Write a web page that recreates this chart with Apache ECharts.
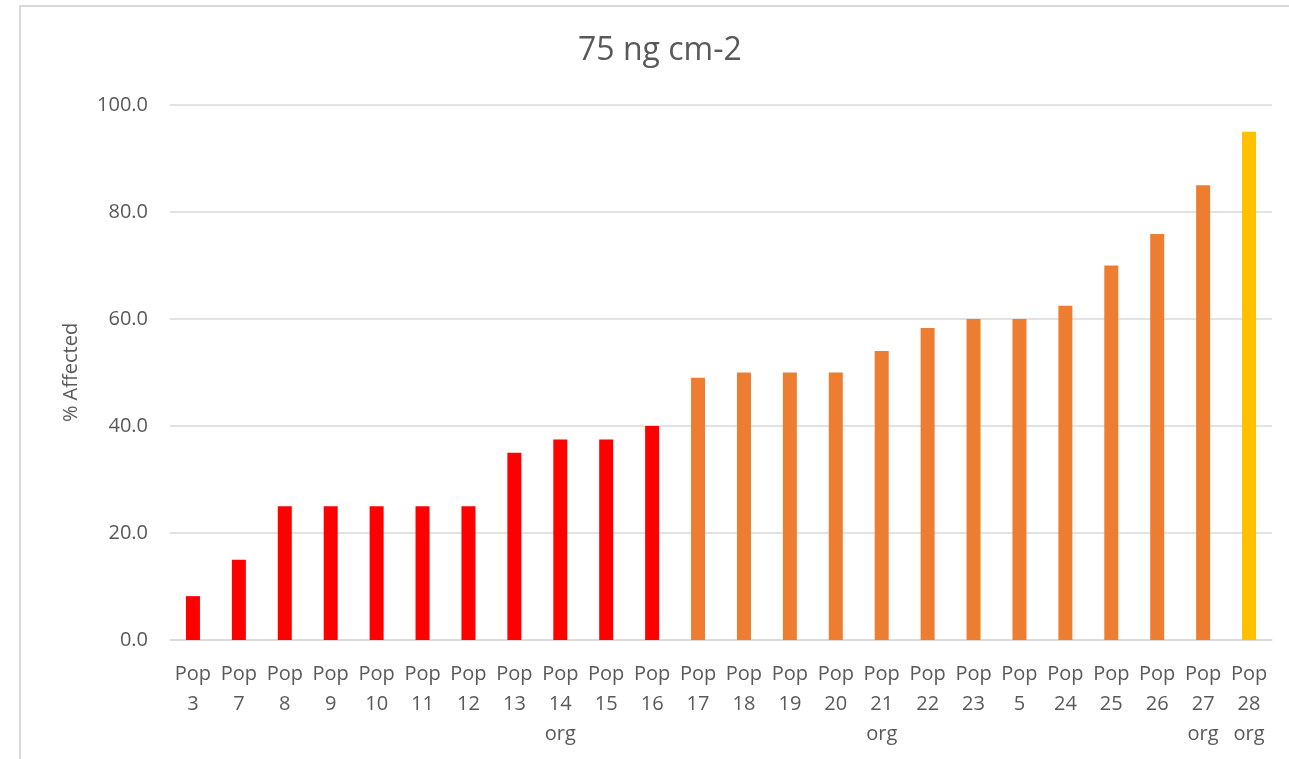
<!DOCTYPE html>
<html>
<head>
<meta charset="utf-8">
<script src="https://cdn.jsdelivr.net/npm/echarts@6/dist/echarts.min.js"></script>
<style>
  html, body { margin: 0; padding: 0; background: #ffffff; }
  #chart { width: 1289px; height: 759px; }
</style>
</head>
<body>
<div id="chart"></div>
<script>
const titleText = '75 ng cm-2';
const yAxisName = '% Affected';
const categories = [
  'Pop\n3', 'Pop\n7', 'Pop\n8', 'Pop\n9', 'Pop\n10', 'Pop\n11', 'Pop\n12', 'Pop\n13',
  'Pop\n14\norg', 'Pop\n15', 'Pop\n16', 'Pop\n17', 'Pop\n18', 'Pop\n19', 'Pop\n20',
  'Pop\n21\norg', 'Pop\n22', 'Pop\n23', 'Pop\n5', 'Pop\n24', 'Pop\n25', 'Pop\n26',
  'Pop\n27\norg', 'Pop\n28\norg'
];
const values = [
  8.2, 15.0, 25.0, 25.0, 25.0, 25.0, 25.0, 35.0,
  37.5, 37.5, 40.0, 49.0, 50.0, 50.0, 50.0,
  54.0, 58.3, 60.0, 60.0, 62.5, 70.0, 75.9,
  85.0, 95.0
];
const groups = [
  'low', 'low', 'low', 'low', 'low', 'low', 'low', 'low',
  'low', 'low', 'low', 'mid', 'mid', 'mid', 'mid',
  'mid', 'mid', 'mid', 'mid', 'mid', 'mid', 'mid',
  'mid', 'high'
];
const yTicks = { min: 0, max: 100, interval: 20 };

const groupColors = { low: '#FF0000', mid: '#ED7D31', high: '#FFC000' };
const textColor = '#595959';
const font = 'Open Sans';

const chart = echarts.init(document.getElementById('chart'), null, { renderer: 'canvas' });
chart.setOption({
  backgroundColor: '#ffffff',
  animation: false,
  textStyle: { fontFamily: font },
  title: {
    text: titleText,
    left: 573,
    top: 30,
    textStyle: { fontFamily: font, fontSize: 32, fontWeight: 'normal', color: textColor }
  },
  graphic: [{
    type: 'rect',
    shape: { x: 20, y: 6, width: 1400, height: 900 },
    style: { fill: 'none', stroke: '#d9d9d9', lineWidth: 2 },
    silent: true,
    z: -1
  }],
  grid: { left: 170, right: 17, top: 105, bottom: 119, containLabel: false },
  xAxis: {
    type: 'category',
    data: categories,
    axisLine: { show: true, lineStyle: { color: '#d9d9d9', width: 1.5 } },
    axisTick: { show: false },
    axisLabel: {
      interval: 0,
      color: textColor,
      fontFamily: font,
      fontSize: 20,
      lineHeight: 30,
      margin: 19
    }
  },
  yAxis: {
    type: 'value',
    min: yTicks.min,
    max: yTicks.max,
    interval: yTicks.interval,
    name: yAxisName,
    nameLocation: 'middle',
    nameGap: 89,
    nameTextStyle: { color: textColor, fontFamily: font, fontSize: 20 },
    axisLine: { show: false },
    axisTick: { show: false },
    splitLine: { lineStyle: { color: '#d9d9d9', width: 1.5 } },
    axisLabel: {
      color: textColor,
      fontFamily: font,
      fontSize: 20,
      margin: 22,
      formatter: v => v.toFixed(1)
    }
  },
  series: [{
    type: 'bar',
    data: values.map((v, i) => ({ value: v, itemStyle: { color: groupColors[groups[i]] } })),
    barWidth: 14
  }]
});
</script>
</body>
</html>
